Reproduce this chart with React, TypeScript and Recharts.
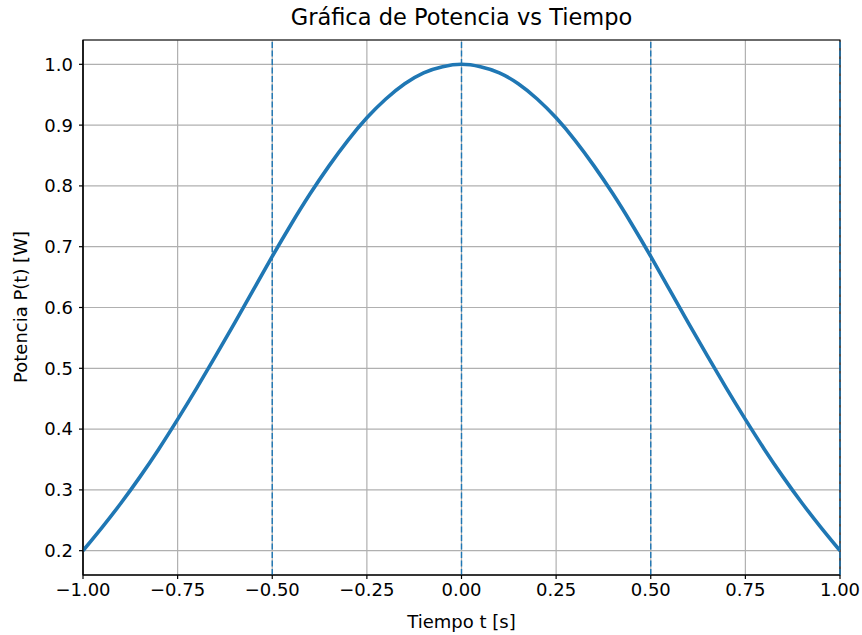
import React from 'react';
import {
  LineChart,
  Line,
  XAxis,
  YAxis,
  CartesianGrid,
  ReferenceLine,
  ReferenceArea
} from 'recharts';

// values
const times = [
  -1.0, -0.95, -0.9, -0.85, -0.8, -0.75, -0.7, -0.65, -0.6, -0.55, -0.5,
  -0.45, -0.4, -0.35, -0.3, -0.25, -0.2, -0.15, -0.1, -0.05, 0.0,
  0.05, 0.1, 0.15, 0.2, 0.25, 0.3, 0.35, 0.4, 0.45, 0.5,
  0.55, 0.6, 0.65, 0.7, 0.75, 0.8, 0.85, 0.9, 0.95, 1.0
];
const power = [
  0.2, 0.238, 0.278, 0.321, 0.367, 0.416, 0.467, 0.52, 0.574, 0.629, 0.684,
  0.737, 0.787, 0.833, 0.875, 0.912, 0.943, 0.968, 0.986, 0.996, 1.0,
  0.996, 0.986, 0.968, 0.943, 0.912, 0.875, 0.833, 0.787, 0.737, 0.684,
  0.629, 0.574, 0.52, 0.467, 0.416, 0.367, 0.321, 0.278, 0.238, 0.2
];
const xTicks = [-1, -0.75, -0.5, -0.25, 0, 0.25, 0.5, 0.75, 1];
const yTicks = [0.2, 0.3, 0.4, 0.5, 0.6, 0.7, 0.8, 0.9, 1.0];
const markerTimes = [-0.5, 0, 0.5, 1];

const data = times.map((t, i) => ({ t, p: power[i] }));

const FONT = '"DejaVu Sans", sans-serif';
const BLUE = '#1f77b4';

const fmtX = (v: number) => {
  const s = Math.abs(v).toFixed(2);
  return v < 0 ? '\u2212' + s : s;
};

export default function App() {
  return (
    <div
      style={{
        position: 'absolute',
        left: 0,
        top: 0,
        width: 862,
        height: 635,
        background: '#fff',
        fontFamily: FONT
      }}
    >
      <div
        style={{
          position: 'absolute',
          left: 83,
          width: 757,
          top: 4,
          textAlign: 'center',
          fontSize: 22.5,
          color: '#000'
        }}
      >
        Gráfica de Potencia vs Tiempo
      </div>
      <LineChart
        width={862}
        height={635}
        data={data}
        margin={{ top: 40, right: 22, bottom: 30, left: 23 }}
      >
        <CartesianGrid stroke='#b0b0b0' strokeWidth={1.2} />
        <XAxis
          dataKey='t'
          type='number'
          domain={[-1, 1]}
          ticks={xTicks}
          tickFormatter={fmtX}
          height={30}
          tickSize={4}
          tickMargin={4}
          stroke='#000'
          tick={{ fill: '#000', fontSize: 18, fontFamily: FONT }}
          axisLine={{ stroke: '#000', strokeWidth: 1.2 }}
          tickLine={{ stroke: '#000', strokeWidth: 1.2 }}
          allowDataOverflow
        />
        <YAxis
          type='number'
          domain={[0.16, 1.04]}
          ticks={yTicks}
          tickFormatter={(v: number) => v.toFixed(1)}
          width={60}
          tickSize={4}
          tickMargin={6}
          stroke='#000'
          tick={{ fill: '#000', fontSize: 18, fontFamily: FONT }}
          axisLine={{ stroke: '#000', strokeWidth: 1.2 }}
          tickLine={{ stroke: '#000', strokeWidth: 1.2 }}
          allowDataOverflow
        />
        <Line
          type='natural'
          dataKey='p'
          stroke={BLUE}
          strokeWidth={3.6}
          dot={false}
          isAnimationActive={false}
        />
        {markerTimes.map((m) => (
          <ReferenceLine
            key={m}
            x={m}
            stroke={BLUE}
            strokeWidth={1.4}
            strokeDasharray='6 2.5'
          />
        ))}
        <ReferenceArea
          x1={-1}
          x2={1}
          y1={0.16}
          y2={1.04}
          fill='none'
          fillOpacity={0}
          stroke='#000'
          strokeWidth={1.2}
          ifOverflow='visible'
        />
      </LineChart>
      <div
        style={{
          position: 'absolute',
          left: 83,
          width: 757,
          top: 611,
          textAlign: 'center',
          fontSize: 18,
          color: '#000'
        }}
      >
        Tiempo t [s]
      </div>
      <div
        style={{
          position: 'absolute',
          left: 20,
          top: 307,
          transform: 'translate(-50%, -50%) rotate(-90deg)',
          whiteSpace: 'nowrap',
          fontSize: 18,
          color: '#000'
        }}
      >
        Potencia P(t) [W]
      </div>
    </div>
  );
}
